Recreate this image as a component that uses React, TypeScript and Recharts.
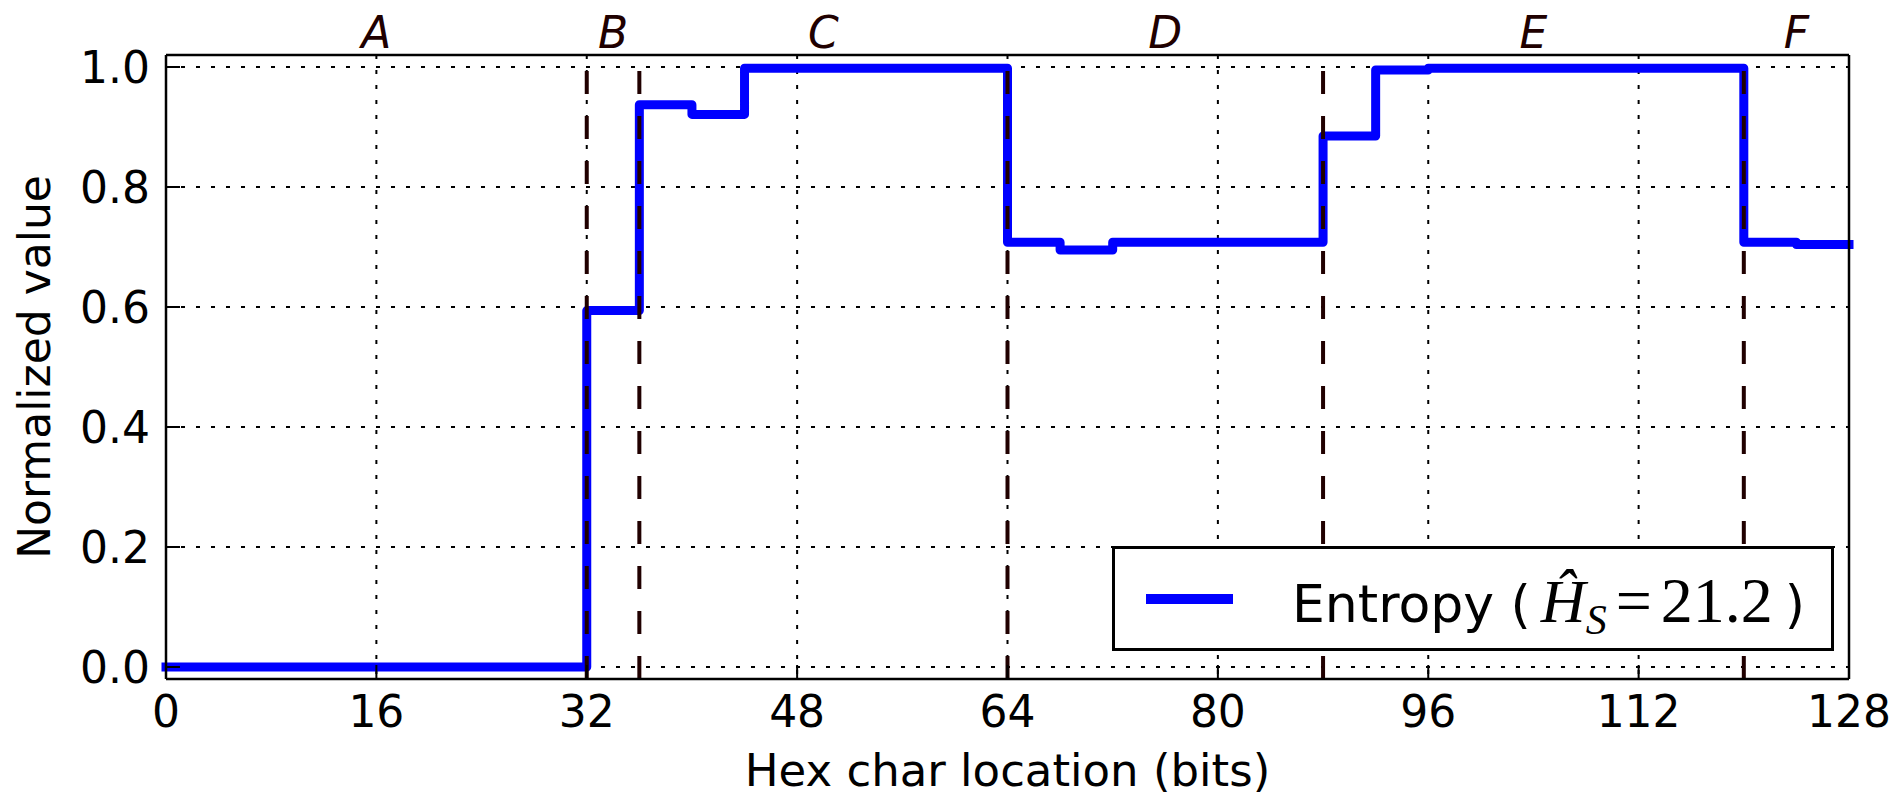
import React from "react";
import {
  CartesianGrid,
  Legend,
  Line,
  LineChart,
  ReferenceLine,
  XAxis,
  YAxis,
} from "recharts";

// where each step starts (bits) and its normalized entropy
const locations = [0, 32, 36, 40, 44, 64, 68, 72, 88, 92, 96, 120, 124, 128];
const entropy = [
  0.0, 0.594, 0.937, 0.921, 0.998, 0.708, 0.695, 0.708, 0.885, 0.995, 0.998,
  0.708, 0.704, 0.704,
];

// field boundaries of the hex string and their names
const segmentEdges = [0, 32, 36, 64, 88, 120, 128];
const segmentNames = ["A", "B", "C", "D", "E", "F"];

const xTicks = [0, 16, 32, 48, 64, 80, 96, 112, 128];
const yTicks = [0, 0.2, 0.4, 0.6, 0.8, 1.0];

const data = locations.map((x, i) => ({ x, entropy: entropy[i] }));
const boundaries = segmentEdges.slice(1, -1);
const segmentCenters = segmentNames.map((name, i) => ({
  name,
  x: (segmentEdges[i] + segmentEdges[i + 1]) / 2,
}));

const FONT = "DejaVu Sans";
const MATH = "Liberation Serif";
const BLUE = "#0000ff";
const BROWN = "#200000";

const axisLine = { stroke: "#000", strokeWidth: 2.5 };
const tickLine = { stroke: "#000", strokeWidth: 2 };
const tickText = { fill: "#000", fontSize: 44, fontFamily: FONT };

function EntropyLegend() {
  return (
    <div
      style={{
        boxSizing: "border-box",
        width: 722,
        height: 105,
        border: "3px solid #000",
        background: "#fff",
        display: "flex",
        alignItems: "center",
        color: "#000",
      }}
    >
      <span
        style={{
          display: "inline-block",
          width: 87,
          height: 10,
          marginLeft: 31,
          background: BLUE,
        }}
      />
      <span style={{ marginLeft: 59, whiteSpace: "nowrap", marginTop: 4 }}>
        <span style={{ fontFamily: FONT, fontSize: 52 }}>Entropy (</span>
        <span
          style={{
            fontFamily: MATH,
            fontStyle: "italic",
            fontSize: 62,
            marginLeft: 10,
          }}
        >
          Ĥ
        </span>
        <span
          style={{
            fontFamily: MATH,
            fontStyle: "italic",
            fontSize: 42,
            position: "relative",
            top: 12,
          }}
        >
          S
        </span>
        <span style={{ fontFamily: MATH, fontSize: 64, margin: "0 9px" }}>
          =
        </span>
        <span style={{ fontFamily: MATH, fontSize: 64 }}>21.2</span>
        <span style={{ fontFamily: FONT, fontSize: 52, marginLeft: 12 }}>
          )
        </span>
      </span>
    </div>
  );
}

export default function App() {
  return (
    <div style={{ position: "absolute", left: 0, top: 0 }}>
      <LineChart
        width={1897}
        height={797}
        data={data}
        margin={{ top: 0, right: 0, bottom: 0, left: 0 }}
        style={{ fontFamily: FONT, background: "#fff" }}
      >
        <CartesianGrid stroke="#000" strokeWidth={2} strokeDasharray="4 11" />
        <XAxis
          dataKey="x"
          type="number"
          domain={[0, 128]}
          ticks={xTicks}
          interval={0}
          height={118}
          tickSize={-14}
          tickMargin={31}
          tick={tickText}
          tickLine={tickLine}
          axisLine={axisLine}
          label={{
            value: "Hex char location (bits)",
            position: "insideBottom",
            offset: 11,
            fill: "#000",
            fontSize: 45,
            fontFamily: FONT,
          }}
        />
        <XAxis
          xAxisId="top"
          orientation="top"
          dataKey="x"
          type="number"
          domain={[0, 128]}
          ticks={xTicks}
          interval={0}
          height={55}
          tickSize={-14}
          tick={false}
          tickLine={tickLine}
          axisLine={axisLine}
        />
        <YAxis
          domain={[-0.02, 1.02]}
          ticks={yTicks}
          interval={0}
          width={166}
          tickSize={-14}
          tickMargin={30}
          tick={tickText}
          tickLine={tickLine}
          axisLine={axisLine}
          tickFormatter={(v: number) => v.toFixed(1)}
          label={{
            value: "Normalized value",
            angle: -90,
            position: "insideLeft",
            offset: 34,
            textAnchor: "middle",
            fill: "#000",
            fontSize: 44,
            fontFamily: FONT,
          }}
        />
        <YAxis
          yAxisId="right"
          orientation="right"
          domain={[-0.02, 1.02]}
          ticks={yTicks}
          interval={0}
          width={48}
          tickSize={-14}
          tick={false}
          tickLine={tickLine}
          axisLine={axisLine}
        />
        <Line
          type="stepAfter"
          dataKey="entropy"
          name="Entropy"
          stroke={BLUE}
          strokeWidth={9}
          strokeLinecap="square"
          strokeLinejoin="round"
          dot={false}
          activeDot={false}
          isAnimationActive={false}
        />
        {boundaries.map((b) => (
          <ReferenceLine
            key={`edge-${b}`}
            x={b}
            stroke={BROWN}
            strokeWidth={4}
            strokeDasharray="23 22"
          />
        ))}
        {segmentCenters.map((s) => (
          <ReferenceLine
            key={`name-${s.name}`}
            x={s.x}
            stroke="none"
            label={{
              value: s.name,
              position: "top",
              offset: 7,
              fill: BROWN,
              fontSize: 44,
              fontStyle: "italic",
              fontFamily: FONT,
            }}
          />
        ))}
        <Legend
          layout="vertical"
          verticalAlign="middle"
          align="center"
          content={<EntropyLegend />}
          wrapperStyle={{ left: 1112, top: 546, width: 722, height: 105 }}
        />
      </LineChart>
    </div>
  );
}
